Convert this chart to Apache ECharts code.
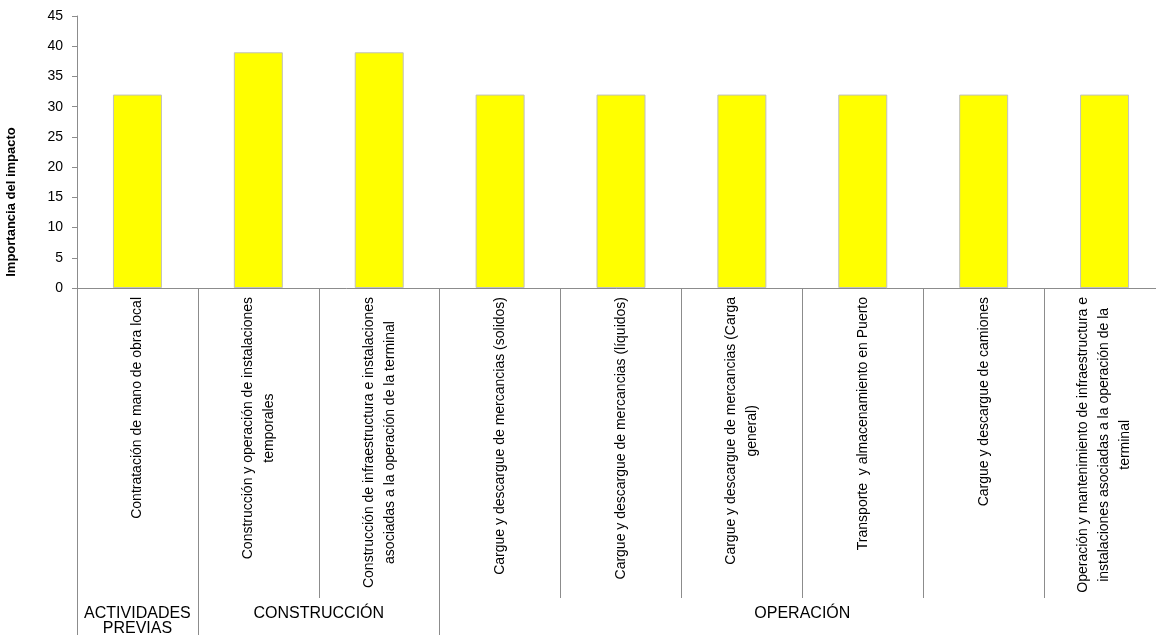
<!DOCTYPE html>
<html>
<head>
<meta charset="utf-8">
<script src="https://cdn.jsdelivr.net/npm/echarts@6/dist/echarts.min.js"></script>
<style>html,body{margin:0;padding:0;background:#fff}#c{width:1156px;height:635px}</style>
</head>
<body>
<div id="c"></div>
<script>
const categories = [
  "Contratación de mano de obra local",
  "Construcción y operación de instalaciones\ntemporales",
  "Construcción de infraestructura e instalaciones\nasociadas a la operación de la terminal",
  "Cargue y descargue de mercancias (solidos)",
  "Cargue y descargue de mercancias (líquidos)",
  "Cargue y descargue de mercancias (Carga\ngeneral)",
  "Transporte  y almacenamiento en Puerto",
  "Cargue y descargue de camiones",
  "Operación y mantenimiento de infraestructura e\ninstalaciones asociadas a la operación de la\nterminal"
];
const values = [32, 39, 39, 32, 32, 32, 32, 32, 32];
const groupNames = ["ACTIVIDADES\nPREVIAS", "CONSTRUCCIÓN", "OPERACIÓN"];
const groupSizes = [1, 2, 6];
const yTicks = [0, 45, 5];
const yName = "Importancia del impacto";

// group boundaries and centers (in category units)
const groupBounds = [0];
const groupCenters = [];
groupSizes.forEach(s => {
  const start = groupBounds[groupBounds.length - 1];
  groupCenters.push(start + s / 2);
  groupBounds.push(start + s);
});

const chart = echarts.init(document.getElementById('c'), null, {renderer: 'canvas'});
const sans = "'Liberation Sans', Arial, sans-serif";
chart.setOption({
  animation: false,
  backgroundColor: '#fff',
  grid: {left: 77, right: -9, top: 16, bottom: 347, containLabel: false, outerBoundsMode: 'none'},
  xAxis: [{
    type: 'category',
    data: categories,
    boundaryGap: true,
    axisLine: {show: true, lineStyle: {color: '#8c8c8c', width: 1}},
    axisTick: {show: true, length: 310, interval: 0, lineStyle: {color: '#8c8c8c', width: 1}},
    axisLabel: {
      interval: 0, rotate: 90, margin: 9, hideOverlap: false,
      color: '#000', fontFamily: sans, fontSize: 14, lineHeight: 21,
      formatter: v => v.split('\n').map(l => '{c|' + l + '}').join('\n'),
      rich: {c: {align: 'center', fontFamily: sans, fontSize: 14, lineHeight: 21, color: '#000'}}
    },
    splitLine: {show: false}
  }, {
    type: 'value',
    position: 'bottom',
    min: 0, max: categories.length,
    axisLine: {show: false},
    axisTick: {show: true, customValues: groupBounds, length: 347, lineStyle: {color: '#8c8c8c', width: 1}},
    axisLabel: {
      customValues: groupCenters, margin: 318,
      color: '#000', fontFamily: sans, fontSize: 16, lineHeight: 15,
      formatter: v => {
        const i = groupCenters.findIndex(c => Math.abs(c - v) < 1e-6);
        return i >= 0 ? groupNames[i] : '';
      }
    },
    splitLine: {show: false}
  }],
  yAxis: {
    type: 'value',
    min: yTicks[0], max: yTicks[1], interval: yTicks[2],
    name: yName,
    nameLocation: 'middle',
    nameGap: 59,
    nameTextStyle: {color: '#000', fontFamily: sans, fontSize: 13, fontWeight: 'bold', padding: [0, 100, 0, 0]},
    axisLine: {show: true, lineStyle: {color: '#8c8c8c', width: 1}},
    axisTick: {show: true, length: 5, lineStyle: {color: '#8c8c8c', width: 1}},
    axisLabel: {color: '#000', fontFamily: sans, fontSize: 14, margin: 14},
    splitLine: {show: false}
  },
  series: [{
    type: 'bar',
    data: values,
    xAxisIndex: 0,
    yAxisIndex: 0,
    barWidth: 49,
    itemStyle: {color: '#FFFF00', borderColor: '#C0C0C0', borderWidth: 1}
  }]
});
</script>
</body>
</html>
